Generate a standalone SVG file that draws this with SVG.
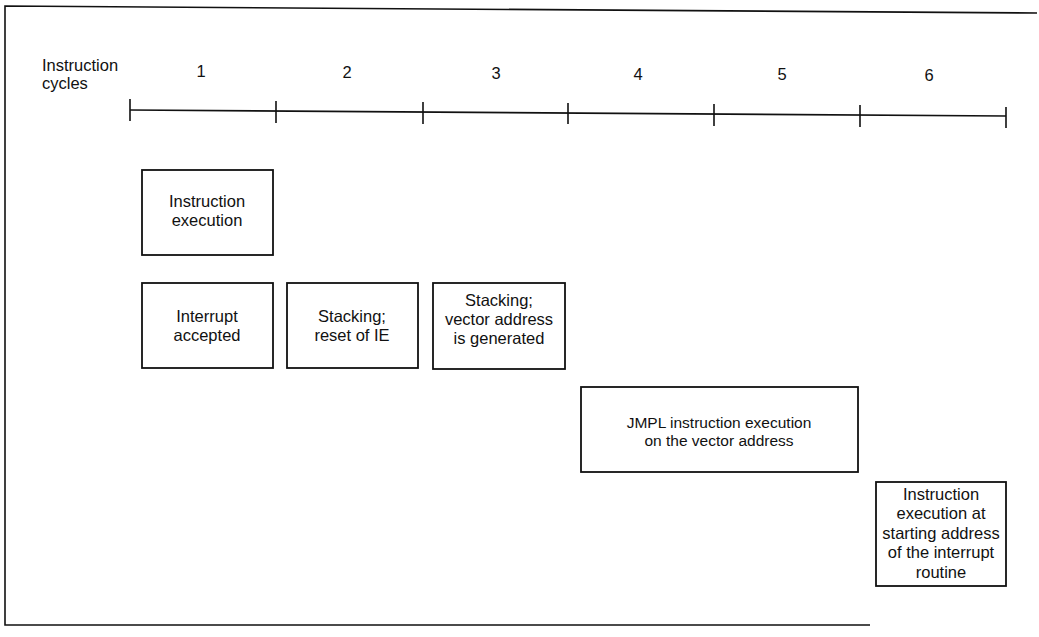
<svg xmlns="http://www.w3.org/2000/svg" width="1039" height="637" viewBox="0 0 1039 637">
<style>
text{font-family:"Liberation Sans",Arial,sans-serif;font-size:16.5px;fill:#111}
.c{text-anchor:middle}
.j{font-size:15.5px}
.box{fill:#fff;stroke:#111;stroke-width:1.8}
.ln{stroke:#111;stroke-width:1.6;fill:none}
</style>
<rect width="1039" height="637" fill="#fff"/>
<g id="frame">
<path class="ln" d="M1037 13 L5 6 L5 625 L870 625"/>
</g>
<g id="timeline">
<text x="42" y="71">Instruction</text>
<text x="42" y="89">cycles</text>
<path class="ln" d="M130 110 L1006 116"/>
<path class="ln" d="M130 99 V121 M276 101 V123 M423 102 V124 M568 103 V124 M714 104 V126 M860 105 V127 M1006 107 V128"/>
<text class="c" x="201" y="77">1</text>
<text class="c" x="347" y="78">2</text>
<text class="c" x="496" y="79">3</text>
<text class="c" x="638" y="80">4</text>
<text class="c" x="782" y="80">5</text>
<text class="c" x="929" y="81">6</text>
</g>
<g id="n-instr">
<rect class="box" x="142" y="170" width="131" height="85"/>
<text class="c" x="207" y="207">Instruction</text>
<text class="c" x="207" y="226">execution</text>
</g>
<g id="n-accepted">
<rect class="box" x="142" y="283" width="131" height="85"/>
<text class="c" x="207" y="322">Interrupt</text>
<text class="c" x="207" y="341">accepted</text>
</g>
<g id="n-stack1">
<rect class="box" x="287" y="283" width="131" height="85"/>
<text class="c" x="352" y="322">Stacking;</text>
<text class="c" x="352" y="341">reset of IE</text>
</g>
<g id="n-stack2">
<rect class="box" x="433" y="283" width="132" height="86"/>
<text class="c" x="499" y="306">Stacking;</text>
<text class="c" x="499" y="325">vector address</text>
<text class="c" x="499" y="344">is generated</text>
</g>
<g id="n-jmpl">
<rect class="box" x="581" y="387" width="277" height="85"/>
<text class="c j" x="719" y="428">JMPL instruction execution</text>
<text class="c j" x="719" y="446">on the vector address</text>
</g>
<g id="n-start">
<rect class="box" x="876" y="482" width="130" height="104"/>
<text class="c" x="941" y="500">Instruction</text>
<text class="c" x="941" y="519">execution at</text>
<text class="c" x="941" y="539">starting address</text>
<text class="c" x="941" y="558">of the interrupt</text>
<text class="c" x="941" y="578">routine</text>
</g>
<g id="connectors"></g>
</svg>
